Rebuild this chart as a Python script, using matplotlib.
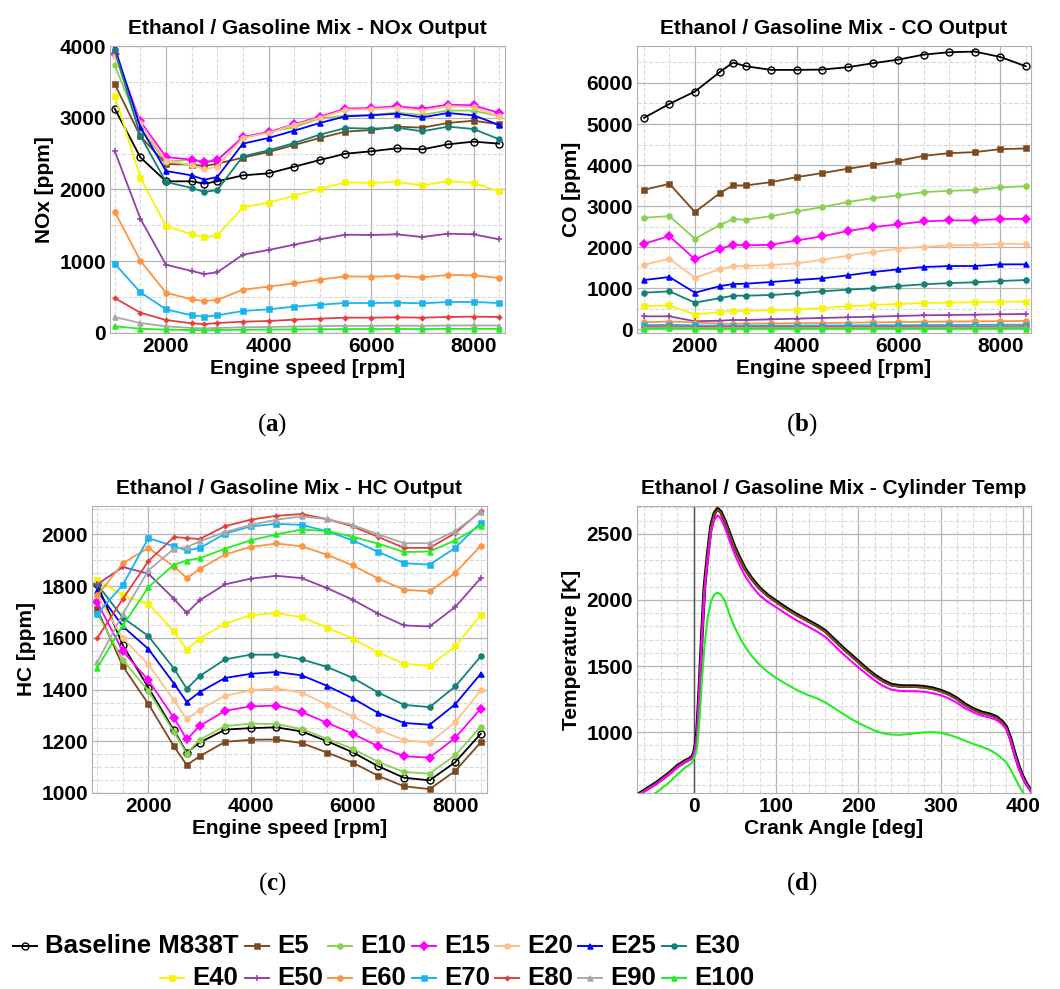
import matplotlib
matplotlib.use('Agg')
import matplotlib.pyplot as plt
from matplotlib.lines import Line2D
from matplotlib.ticker import MultipleLocator

plt.rcParams['font.family'] = ['Liberation Sans', 'DejaVu Sans']
plt.rcParams['font.weight'] = 'bold'
plt.rcParams['mathtext.fontset'] = 'custom'
plt.rcParams['mathtext.rm'] = 'Liberation Serif'
plt.rcParams['mathtext.bf'] = 'Liberation Serif:bold'

# engine speed sweep used by the emission runs
rpm = [1000, 1500, 2000, 2500, 2750, 3000, 3500, 4000, 4500, 5000,
       5500, 6000, 6500, 7000, 7500, 8000, 8500]

fuels = ['Baseline M838T', 'E5', 'E10', 'E15', 'E20', 'E25', 'E30',
         'E40', 'E50', 'E60', 'E70', 'E80', 'E90', 'E100']
colors = ['#000000', '#7b4a1e', '#8cd050', '#ff00ff', '#ffc08a', '#0000ff', '#13807a',
          '#f5f500', '#9040a8', '#ff9440', '#18b4f0', '#e04040', '#a8a8a8', '#22ee22']
markers = ['o', 's', 'o', 'D', 'o', '^', 'o', 's', '+', 'o', 's', (4, 1, 0), '^', '^']

nox = {
    'Baseline M838T': [3127, 2448, 2114, 2114, 2081, 2114, 2197, 2225, 2318, 2411, 2499, 2532, 2574, 2560, 2630, 2667, 2639],
    'E5': [3470, 2741, 2355, 2346, 2328, 2360, 2444, 2523, 2620, 2718, 2806, 2829, 2876, 2862, 2927, 2959, 2908],
    'E10': [3731, 2850, 2388, 2416, 2393, 2416, 2718, 2801, 2870, 2990, 3030, 3040, 3070, 3040, 3100, 3100, 3020],
    'E15': [3893, 2950, 2453, 2416, 2379, 2406, 2732, 2801, 2908, 3015, 3127, 3136, 3159, 3127, 3182, 3173, 3066],
    'E20': [3860, 2920, 2400, 2340, 2280, 2320, 2720, 2790, 2900, 3000, 3110, 3120, 3140, 3100, 3160, 3150, 3020],
    'E25': [3981, 2870, 2258, 2197, 2137, 2174, 2639, 2718, 2820, 2927, 3020, 3034, 3057, 3006, 3066, 3034, 2899],
    'E30': [3940, 2750, 2105, 2021, 1965, 1993, 2462, 2546, 2648, 2764, 2857, 2848, 2862, 2811, 2876, 2843, 2699],
    'E40': [3308, 2165, 1491, 1375, 1333, 1361, 1751, 1816, 1914, 2007, 2100, 2091, 2105, 2058, 2114, 2091, 1974],
    'E50': [2537, 1594, 952, 864, 822, 846, 1092, 1157, 1231, 1305, 1370, 1366, 1375, 1338, 1384, 1375, 1305],
    'E60': [1691, 1008, 562, 469, 446, 460, 604, 646, 692, 743, 790, 785, 794, 776, 808, 804, 767],
    'E70': [966, 567, 330, 246, 228, 246, 307, 330, 367, 395, 418, 418, 423, 413, 432, 432, 418],
    'E80': [488, 283, 181, 135, 125, 139, 158, 167, 186, 200, 214, 214, 218, 214, 223, 228, 223],
    'E90': [223, 139, 93, 70, 65, 70, 79, 84, 90, 95, 100, 100, 102, 100, 104, 105, 104],
    'E100': [93, 60, 46, 42, 37, 42, 45, 48, 50, 52, 55, 55, 56, 55, 58, 58, 58],
}

co = {
    'Baseline M838T': [5150, 5491, 5791, 6277, 6496, 6407, 6318, 6318, 6326, 6383, 6480, 6569, 6691, 6748, 6764, 6634, 6407],
    'E5': [3398, 3544, 2855, 3325, 3504, 3504, 3585, 3706, 3804, 3909, 4006, 4104, 4225, 4290, 4315, 4388, 4404],
    'E10': [2717, 2757, 2206, 2547, 2685, 2668, 2757, 2871, 2976, 3098, 3195, 3260, 3341, 3374, 3390, 3455, 3487],
    'E15': [2084, 2271, 1703, 1963, 2060, 2044, 2060, 2165, 2263, 2393, 2490, 2555, 2628, 2652, 2652, 2685, 2693],
    'E20': [1573, 1719, 1257, 1468, 1533, 1541, 1565, 1606, 1695, 1792, 1882, 1963, 2011, 2044, 2052, 2084, 2076],
    'E25': [1200, 1273, 892, 1054, 1103, 1111, 1152, 1200, 1241, 1314, 1395, 1460, 1517, 1541, 1541, 1582, 1582],
    'E30': [892, 925, 649, 762, 819, 819, 835, 876, 925, 965, 998, 1054, 1095, 1127, 1144, 1176, 1200],
    'E40': [560, 584, 357, 422, 446, 446, 462, 479, 519, 560, 592, 616, 641, 649, 657, 673, 673],
    'E50': [316, 316, 195, 211, 227, 227, 243, 260, 276, 292, 308, 324, 341, 349, 357, 365, 373],
    'E60': [170, 190, 165, 135, 135, 138, 142, 148, 152, 160, 168, 175, 182, 188, 192, 198, 204],
    'E70': [100, 112, 95, 85, 85, 86, 88, 90, 92, 95, 98, 100, 103, 105, 107, 110, 112],
    'E80': [65, 70, 60, 55, 55, 55, 56, 57, 58, 60, 62, 63, 65, 66, 67, 68, 70],
    'E90': [42, 45, 38, 35, 35, 35, 36, 37, 38, 39, 40, 41, 42, 43, 44, 45, 46],
    'E100': [18, 20, 16, 14, 14, 14, 15, 15, 16, 16, 17, 17, 18, 18, 18, 19, 19],
}

hc = {
    'Baseline M838T': [1807, 1571, 1407, 1242, 1156, 1195, 1245, 1251, 1254, 1238, 1200, 1157, 1103, 1059, 1049, 1119, 1229],
    'E5': [1710, 1490, 1344, 1180, 1108, 1142, 1198, 1206, 1207, 1193, 1156, 1117, 1066, 1026, 1015, 1085, 1196],
    'E10': [1693, 1515, 1394, 1236, 1152, 1206, 1259, 1268, 1267, 1247, 1209, 1171, 1120, 1081, 1075, 1146, 1256],
    'E15': [1737, 1548, 1436, 1290, 1207, 1259, 1318, 1335, 1338, 1313, 1271, 1229, 1180, 1142, 1137, 1213, 1326],
    'E20': [1764, 1599, 1497, 1358, 1285, 1322, 1376, 1397, 1405, 1388, 1341, 1296, 1245, 1204, 1195, 1274, 1397],
    'E25': [1781, 1644, 1557, 1423, 1352, 1390, 1445, 1461, 1468, 1455, 1414, 1366, 1309, 1271, 1264, 1343, 1461],
    'E30': [1807, 1678, 1607, 1481, 1403, 1452, 1517, 1535, 1535, 1517, 1487, 1445, 1388, 1341, 1332, 1412, 1528],
    'E40': [1825, 1764, 1732, 1625, 1555, 1597, 1655, 1687, 1696, 1680, 1639, 1597, 1543, 1500, 1491, 1567, 1688],
    'E50': [1807, 1874, 1848, 1751, 1696, 1745, 1807, 1829, 1840, 1831, 1792, 1747, 1693, 1648, 1644, 1719, 1831],
    'E60': [1764, 1889, 1948, 1876, 1831, 1866, 1923, 1951, 1965, 1954, 1921, 1880, 1829, 1786, 1780, 1851, 1956],
    'E70': [1693, 1805, 1986, 1954, 1938, 1947, 2003, 2031, 2041, 2037, 2012, 1977, 1932, 1889, 1883, 1948, 2045],
    'E80': [1600, 1751, 1897, 1990, 1986, 1982, 2032, 2057, 2072, 2079, 2059, 2031, 1990, 1948, 1948, 2005, 2090],
    'E90': [1506, 1693, 1861, 1945, 1951, 1973, 2009, 2037, 2057, 2070, 2059, 2036, 2000, 1966, 1966, 2013, 2086],
    'E100': [1485, 1648, 1796, 1883, 1899, 1908, 1945, 1977, 2000, 2019, 2013, 1991, 1964, 1932, 1934, 1977, 2034],
}

# in-cylinder temperature trace vs crank angle
crank = [-69, -60, -45, -30, -20, -10, -5, -2, 0, 2, 4, 7, 10, 13, 17, 21, 25, 29, 33, 38,
         44, 50, 56, 62, 70, 80, 90, 100, 112, 125, 137, 150, 160, 170, 180, 190, 200, 210,
         220, 230, 240, 250, 260, 270, 280, 290, 300, 310, 320, 330, 340, 350, 360, 368,
         375, 380, 385, 390, 395, 400, 405, 410]
temp = {
    'Baseline M838T': [525, 560, 620, 690, 745, 785, 800, 815, 840, 900, 1000, 1350, 1750, 2100, 2350, 2560, 2655, 2690, 2665, 2595,
                       2495, 2395, 2315, 2240, 2165, 2090, 2035, 1990, 1940, 1890, 1850, 1805, 1765, 1705, 1645, 1590, 1535, 1480,
                       1430, 1390, 1360, 1350, 1348, 1348, 1343, 1333, 1315, 1290, 1255, 1210, 1175, 1150, 1135, 1115,
                       1080, 1040, 955, 845, 745, 665, 605, 560],
    'E5': [522, 557, 617, 687, 742, 782, 797, 812, 837, 897, 995, 1345, 1745, 2095, 2345, 2555, 2648, 2683, 2658, 2589,
           2489, 2389, 2309, 2234, 2159, 2084, 2029, 1984, 1934, 1884, 1844, 1799, 1759, 1699, 1639, 1584, 1529, 1474,
           1424, 1384, 1354, 1344, 1342, 1342, 1337, 1327, 1309, 1284, 1249, 1204, 1169, 1144, 1129, 1109,
           1074, 1034, 949, 839, 739, 659, 599, 554],
    'E15': [515, 550, 608, 677, 732, 772, 787, 802, 827, 885, 980, 1320, 1715, 2060, 2310, 2515, 2605, 2640, 2615, 2545,
            2440, 2340, 2260, 2185, 2110, 2035, 1985, 1945, 1895, 1845, 1805, 1760, 1720, 1660, 1600, 1545, 1490, 1440,
            1390, 1350, 1322, 1312, 1310, 1310, 1305, 1295, 1280, 1255, 1222, 1180, 1150, 1125, 1110, 1092,
            1060, 1022, 940, 830, 732, 655, 597, 553],
    'E100': [470, 495, 545, 620, 680, 735, 755, 770, 800, 830, 880, 1100, 1400, 1650, 1870, 1990, 2040, 2055, 2040, 1990,
             1880, 1790, 1715, 1650, 1580, 1510, 1455, 1410, 1365, 1320, 1285, 1255, 1225, 1185, 1145, 1105, 1070, 1040,
             1012, 992, 982, 980, 985, 992, 998, 1000, 995, 980, 960, 935, 910, 890, 865, 835,
             800, 770, 720, 660, 600, 545, 490, 440],
}
temp_fuels = ['Baseline M838T', 'E5', 'E15', 'E100']

W, H = 1060, 989
fig = plt.figure(figsize=(W / 100, H / 100), dpi=100)


def px_axes(left, top, right, bottom):
    return fig.add_axes([left / W, 1 - bottom / H, (right - left) / W, (bottom - top) / H])


def style(ax, title, xlabel, ylabel, xmaj, xmin, ymaj, ymin):
    ax.set_title(title, fontsize=15, fontweight='bold', pad=9)
    ax.set_xlabel(xlabel, fontsize=15, fontweight='bold', labelpad=2)
    ax.set_ylabel(ylabel, fontsize=15, fontweight='bold', labelpad=4)
    ax.xaxis.set_major_locator(MultipleLocator(xmaj))
    ax.xaxis.set_minor_locator(MultipleLocator(xmin))
    ax.yaxis.set_major_locator(MultipleLocator(ymaj))
    ax.yaxis.set_minor_locator(MultipleLocator(ymin))
    ax.grid(which='major', color='#b4b4b4', lw=0.9, ls='-')
    ax.grid(which='minor', color='#dadada', lw=0.8, ls='--')
    ax.set_axisbelow(True)
    ax.tick_params(which='both', length=0, labelsize=15, pad=3)
    for lab in ax.get_xticklabels() + ax.get_yticklabels():
        lab.set_fontweight('bold')
    for sp in ax.spines.values():
        sp.set_color('#b0b0b0')


def marker_style(name, m):
    if name == 'Baseline M838T':
        return dict(marker=m, ms=5, mfc='none', mew=1.0)
    return dict(marker=m, ms=5 if m == '+' else 3.6, mew=1.1)


def draw_sweep(ax, data):
    for name, c, m in zip(fuels, colors, markers):
        ax.plot(rpm, data[name], color=c, lw=1.3, **marker_style(name, m))


ax_a = px_axes(110, 46, 505, 333)
draw_sweep(ax_a, nox)
ax_a.set_xlim(908, 8612)
ax_a.set_ylim(0, 4000)
style(ax_a, 'Ethanol / Gasoline Mix - NOx Output', 'Engine speed [rpm]', 'NOx [ppm]', 2000, 500, 1000, 500)

ax_b = px_axes(637, 46, 1031, 333)
draw_sweep(ax_b, co)
ax_b.set_xlim(862, 8605)
ax_b.set_ylim(-90, 6900)
style(ax_b, 'Ethanol / Gasoline Mix - CO Output', 'Engine speed [rpm]', 'CO [ppm]', 2000, 500, 1000, 500)

ax_c = px_axes(92, 506, 487, 793)
draw_sweep(ax_c, hc)
ax_c.set_xlim(896, 8623)
ax_c.set_ylim(1000, 2110)
style(ax_c, 'Ethanol / Gasoline Mix - HC Output', 'Engine speed [rpm]', 'HC [ppm]', 2000, 500, 200, 50)

ax_d = px_axes(637, 506, 1031, 793)
for name in temp_fuels:
    i = fuels.index(name)
    lw = 2.6 if name == 'Baseline M838T' else 1.5
    ax_d.plot(crank, temp[name], color=colors[i], lw=lw)
ax_d.axvline(0, color='#505050', lw=1.0, zorder=1)
ax_d.set_xlim(-69, 410)
ax_d.set_ylim(540, 2710)
style(ax_d, 'Ethanol / Gasoline Mix - Cylinder Temp', 'Crank Angle [deg]', 'Temperature [K]', 100, 20, 500, 100)

# sub-figure captions
for lab, x, y in [('a', 272, 425), ('b', 802, 425), ('c', 272, 884), ('d', 802, 884)]:
    fig.text(x / W, 1 - y / H, '($\\mathbf{%s}$)' % lab, fontsize=18, ha='center', va='center',
             family='Liberation Serif', fontweight='normal')

# legend laid out as a fixed grid below the panels
row_y = [946, 978]
slots = [(0, 13), (0, 245), (0, 328), (0, 412), (0, 495), (0, 578), (0, 662),
         (1, 160), (1, 245), (1, 328), (1, 412), (1, 495), (1, 578), (1, 662)]
for name, c, m, (row, x0) in zip(fuels, colors, markers, slots):
    y = 1 - row_y[row] / H
    fig.add_artist(Line2D([x0 / W, (x0 + 24) / W], [y, y], color=c, lw=1.4,
                          transform=fig.transFigure))
    fig.add_artist(Line2D([(x0 + 12) / W], [y], color=c, ls='none',
                          transform=fig.transFigure, **marker_style(name, m)))
    fig.text((x0 + 32) / W, y, name, fontsize=18.5, fontweight='bold', ha='left', va='center')

fig.savefig('out.png', dpi=100)
